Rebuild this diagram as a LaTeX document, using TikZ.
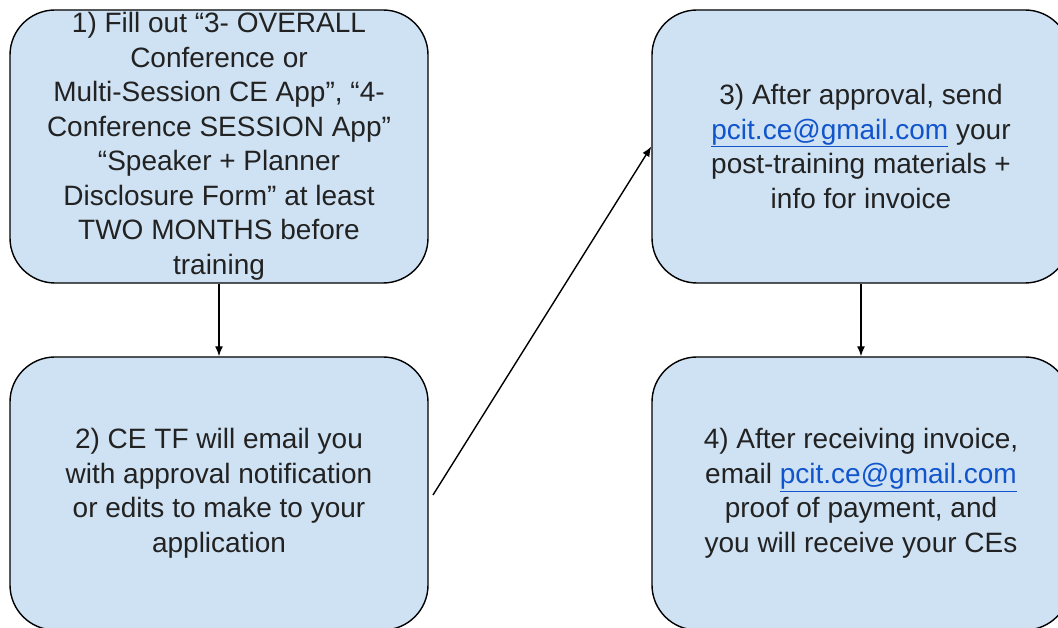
\documentclass[tikz,border=0pt]{standalone}
\usepackage{fontspec}
\setmainfont{Liberation Sans}
\usepackage{tikz}
\usetikzlibrary{positioning, shapes, arrows, arrows.meta}
\definecolor{boxblue}{HTML}{CFE2F3}
\definecolor{linkblue}{HTML}{1155CC}
\definecolor{inkgray}{HTML}{222222}
\newcommand{\maillink}{\textcolor{linkblue}{\underline{pcit.ce@gmail.com}}}
\tikzset{font=\fontsize{28}{34.5}\selectfont}
\tikzstyle{point}  = [coordinate]
\tikzstyle{block}  = [draw=black, line width=1.4pt, rectangle, rounded corners=45pt, fill=boxblue,
                      text=inkgray, minimum width=418pt, minimum height=273pt, inner sep=0pt, align=center]

\begin{document}
\begin{tikzpicture}[x=1pt, y=1pt, auto, >={Latex[length=10pt,width=8pt]}, line width=1.4pt]
	\useasboundingbox (0,0) rectangle (1058,627);
	\clip (0,0) rectangle (1058,627);
	\node [block] (fill) at (219,480.5) {1) Fill out “3- OVERALL\\Conference or\\Multi-Session CE App”, “4-\\Conference SESSION App”\\“Speaker + Planner\\Disclosure Form” at least\\TWO MONTHS before\\training};
	\node [block, below of=fill, node distance=347pt] (reply) {2) CE TF will email you\\with approval notification\\or edits to make to your\\application};
	\node [block, right of=fill, node distance=642pt] (send) {3) After approval, send\\\maillink{} your\\post-training materials +\\info for invoice};
	\node [block, below of=send, node distance=347pt] (pay) {4) After receiving invoice,\\email \maillink\\proof of payment, and\\you will receive your CEs};
	\node [point, right of=reply, node distance=214pt, yshift=-1.5pt] (start) {};

	\draw [->] (fill) -- (reply);
	\draw [->] (start) -- (send.west);
	\draw [->] (send) -- (pay);
\end{tikzpicture}
\end{document}
